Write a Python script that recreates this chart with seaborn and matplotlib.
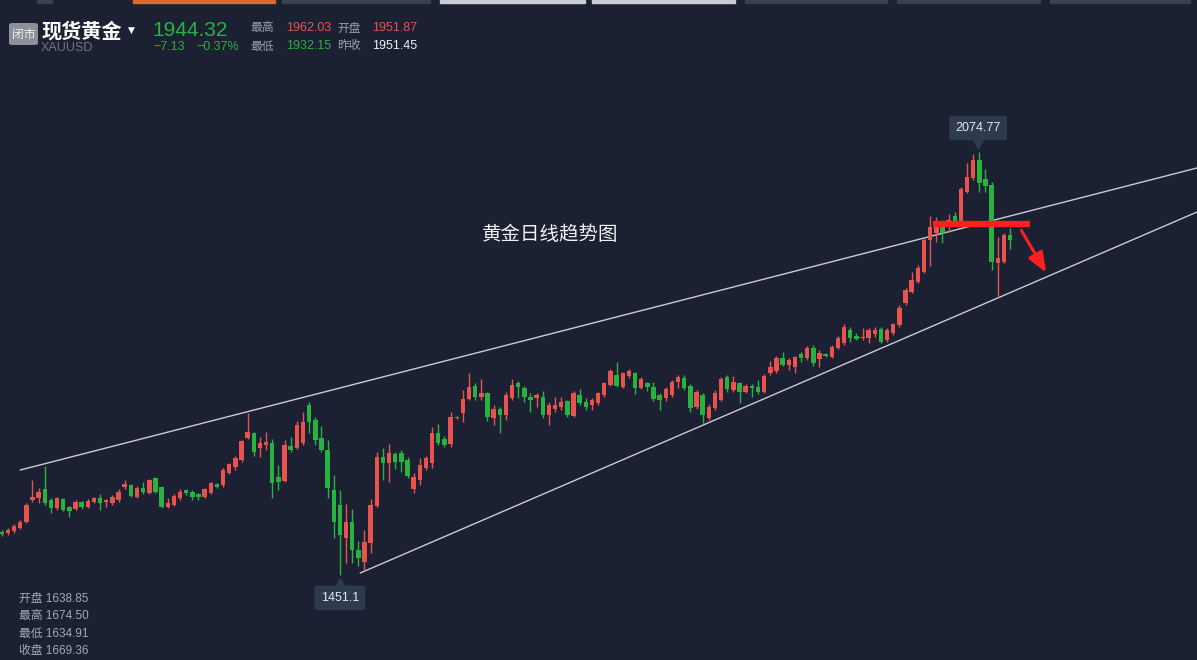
import matplotlib
matplotlib.use("Agg")
import matplotlib.pyplot as plt
import seaborn as sns
import numpy as np
import pandas as pd
from matplotlib.patches import Rectangle, FancyBboxPatch

# ---- data (daily OHLC) ----
opens = [
    1514.5, 1513.1, 1516.0, 1520.4, 1529.3, 1561.7, 1564.6, 1577.9, 1561.7, 1549.9,
    1563.2, 1551.4, 1548.4, 1558.7, 1551.4, 1558.7, 1564.6, 1558.7, 1557.3, 1561.7,
    1580.9, 1583.8, 1566.1, 1579.4, 1572.0, 1594.1, 1580.9, 1551.4, 1554.3, 1564.6,
    1576.4, 1573.5, 1570.5, 1566.1, 1572.0, 1585.3, 1583.8, 1601.5, 1610.3, 1620.7,
    1653.1, 1660.5, 1638.4, 1642.8, 1645.7, 1595.6, 1589.7, 1641.3, 1638.4, 1645.7,
    1701.7, 1679.6, 1653.1, 1635.4, 1576.4, 1554.3, 1505.7, 1529.3, 1488.0, 1470.3,
    1498.3, 1552.9, 1625.1, 1616.2, 1629.5, 1631.0, 1620.7, 1577.9, 1591.2, 1608.9,
    1616.2, 1660.5, 1651.6, 1644.2, 1682.6, 1690.0, 1710.6, 1729.7, 1713.5, 1719.4,
    1682.6, 1695.8, 1687.0, 1712.1, 1734.2, 1726.8, 1713.5, 1712.1, 1713.5, 1687.0,
    1695.8, 1698.8, 1707.6, 1685.6, 1716.5, 1706.1, 1701.7, 1704.7, 1716.5, 1731.2,
    1746.0, 1728.3, 1744.5, 1748.9, 1726.8, 1734.2, 1728.3, 1716.5, 1712.1, 1716.5,
    1735.7, 1741.5, 1729.7, 1698.8, 1716.5, 1682.6, 1697.3, 1709.1, 1743.0, 1723.9,
    1734.2, 1720.9, 1729.7, 1728.3, 1720.9, 1748.9, 1751.8, 1771.0, 1760.7, 1757.7,
    1776.9, 1771.0, 1785.8, 1769.6, 1776.9, 1772.5, 1785.8, 1793.1, 1812.3, 1803.4,
    1800.5, 1800.5, 1806.4, 1813.8, 1797.5, 1807.9, 1819.7, 1852.1, 1868.3, 1883.0,
    1897.8, 1944.9, 1955.3, 1967.0, 1964.1, 1980.3, 1971.5, 2015.7, 2036.3, 2062.9,
    2034.9, 2026.0, 1911.0, 1912.5, 1951.87,
]
highs = [
    1517.5, 1520.4, 1526.3, 1532.2, 1557.3, 1591.2, 1579.4, 1611.8, 1564.6, 1566.1,
    1564.6, 1552.9, 1561.7, 1560.2, 1563.2, 1566.1, 1570.5, 1563.2, 1569.1, 1577.9,
    1591.2, 1585.3, 1582.3, 1588.2, 1592.7, 1595.6, 1582.3, 1564.6, 1570.5, 1577.9,
    1577.9, 1576.4, 1572.0, 1579.4, 1588.2, 1586.8, 1608.9, 1616.2, 1626.6, 1650.1,
    1690.0, 1661.9, 1654.6, 1661.9, 1651.6, 1613.3, 1650.1, 1654.6, 1678.2, 1691.4,
    1706.1, 1684.1, 1670.8, 1650.1, 1598.5, 1576.4, 1555.8, 1548.4, 1501.3, 1517.5,
    1563.2, 1632.5, 1638.4, 1644.2, 1632.5, 1635.4, 1625.1, 1601.5, 1623.6, 1626.6,
    1669.3, 1673.7, 1656.0, 1691.4, 1685.6, 1723.9, 1748.9, 1734.2, 1740.0, 1720.9,
    1701.7, 1698.8, 1720.9, 1740.0, 1737.1, 1729.7, 1719.4, 1719.4, 1722.4, 1706.1,
    1713.5, 1713.5, 1709.1, 1722.4, 1725.3, 1712.1, 1712.1, 1720.9, 1735.7, 1754.8,
    1765.1, 1750.4, 1754.8, 1750.4, 1743.0, 1735.7, 1735.7, 1719.4, 1728.3, 1738.6,
    1745.9, 1745.9, 1732.7, 1723.9, 1719.4, 1703.2, 1723.9, 1743.0, 1745.9, 1744.5,
    1735.7, 1732.7, 1732.7, 1738.6, 1747.4, 1766.6, 1774.0, 1779.9, 1771.0, 1774.0,
    1779.9, 1788.7, 1790.2, 1782.8, 1778.4, 1790.2, 1803.4, 1821.1, 1816.7, 1807.9,
    1815.2, 1815.2, 1816.7, 1816.7, 1815.2, 1822.6, 1849.1, 1874.2, 1897.8, 1908.1,
    1947.9, 1980.3, 1978.8, 1974.4, 1983.3, 1986.2, 2023.1, 2058.4, 2071.7, 2074.77,
    2049.6, 2030.4, 1949.4, 1955.3, 1962.03,
]
lows = [
    1508.6, 1510.1, 1513.1, 1518.9, 1527.8, 1558.7, 1557.3, 1554.3, 1542.5, 1547.0,
    1545.5, 1536.6, 1547.0, 1548.4, 1549.9, 1557.3, 1547.0, 1551.4, 1554.3, 1558.7,
    1577.9, 1566.1, 1564.6, 1570.5, 1570.5, 1572.0, 1549.9, 1549.9, 1552.9, 1561.7,
    1569.1, 1561.7, 1561.7, 1565.0, 1570.5, 1579.4, 1580.9, 1600.0, 1605.9, 1617.7,
    1651.6, 1626.6, 1625.1, 1635.4, 1564.6, 1576.4, 1588.2, 1632.5, 1636.9, 1642.8,
    1660.5, 1642.8, 1632.5, 1564.6, 1505.7, 1451.1, 1468.8, 1468.8, 1464.4, 1458.5,
    1483.6, 1551.4, 1591.2, 1588.2, 1607.4, 1603.0, 1594.1, 1572.0, 1583.8, 1605.9,
    1608.9, 1642.8, 1639.8, 1639.8, 1681.1, 1676.7, 1709.1, 1709.1, 1709.1, 1678.2,
    1672.3, 1660.5, 1679.6, 1709.1, 1712.1, 1706.1, 1691.4, 1698.8, 1682.6, 1672.3,
    1691.4, 1694.4, 1684.1, 1684.1, 1701.7, 1694.4, 1694.4, 1701.7, 1713.5, 1729.7,
    1728.3, 1726.8, 1741.5, 1717.9, 1725.3, 1722.4, 1707.6, 1694.4, 1707.6, 1713.5,
    1726.8, 1723.9, 1691.4, 1695.8, 1675.2, 1679.6, 1694.4, 1707.6, 1720.9, 1720.9,
    1704.7, 1719.4, 1713.5, 1718.0, 1719.4, 1746.0, 1748.9, 1759.2, 1753.3, 1748.9,
    1765.1, 1768.1, 1759.2, 1757.7, 1772.5, 1771.0, 1784.3, 1790.2, 1794.6, 1797.5,
    1797.5, 1793.1, 1802.0, 1793.1, 1794.6, 1804.9, 1816.7, 1849.1, 1866.8, 1881.5,
    1896.3, 1906.6, 1942.0, 1940.5, 1956.8, 1970.0, 1970.0, 2014.2, 2033.4, 2015.7,
    2015.7, 1900.7, 1860.9, 1911.0, 1932.15,
]
closes = [
    1511.6, 1517.5, 1523.4, 1529.3, 1554.3, 1566.1, 1573.5, 1557.3, 1549.9, 1564.6,
    1547.0, 1545.5, 1558.7, 1551.4, 1560.2, 1564.6, 1557.3, 1561.7, 1566.1, 1573.5,
    1585.3, 1567.6, 1579.4, 1573.5, 1591.2, 1573.5, 1551.4, 1557.3, 1567.6, 1573.5,
    1572.0, 1566.1, 1566.1, 1577.9, 1586.8, 1580.9, 1605.9, 1614.8, 1623.6, 1648.7,
    1661.9, 1632.5, 1645.7, 1647.2, 1586.8, 1588.2, 1642.8, 1635.4, 1672.3, 1676.7,
    1676.7, 1650.1, 1635.4, 1579.4, 1529.3, 1510.1, 1529.3, 1488.0, 1476.2, 1499.8,
    1554.3, 1625.1, 1616.2, 1631.0, 1617.7, 1617.7, 1597.1, 1595.6, 1613.3, 1623.6,
    1660.5, 1645.7, 1642.8, 1684.1, 1684.1, 1710.6, 1728.3, 1713.5, 1719.4, 1684.1,
    1695.8, 1687.0, 1716.5, 1731.2, 1728.3, 1713.5, 1709.1, 1716.5, 1687.0, 1701.7,
    1701.7, 1706.1, 1687.0, 1719.4, 1704.7, 1698.8, 1709.1, 1719.4, 1734.2, 1751.8,
    1729.7, 1748.9, 1751.8, 1726.8, 1740.0, 1728.3, 1710.6, 1709.1, 1725.3, 1735.7,
    1743.0, 1726.8, 1697.3, 1720.9, 1687.0, 1698.8, 1719.4, 1740.0, 1725.3, 1735.7,
    1720.9, 1729.7, 1726.8, 1720.9, 1744.5, 1757.7, 1771.0, 1760.7, 1768.1, 1772.5,
    1771.0, 1785.8, 1763.6, 1778.4, 1774.0, 1787.2, 1800.5, 1816.7, 1800.5, 1799.0,
    1802.0, 1812.3, 1812.3, 1794.6, 1812.3, 1821.1, 1844.7, 1871.2, 1886.0, 1903.7,
    1944.9, 1964.1, 1967.0, 1955.3, 1974.4, 1971.5, 2020.1, 2037.8, 2062.9, 2028.9,
    2024.5, 1912.5, 1918.4, 1952.3, 1944.32,
]

# trend lines (bar index, price) and the marked resistance level
upper_line = ([3.0, 194.4], [1605.9, 2051.1])
lower_line = ([58.3, 194.4], [1454.1, 1986.2])
resist_x = [151.4, 167.2]
resist_price = 1968.5
arrow_from = (165.6, 1962.6)
arrow_to = (170.1, 1893.4)

title = "黄金日线趋势图"
header = {"name": "现货黄金", "code": "XAUUSD", "last": "1944.32",
          "chg": "−7.13", "pct": "−0.37%"}
info_left = [("最高", "1962.03", "red"), ("开盘", "1951.87", "red"),
             ("最低", "1932.15", "green"), ("昨收", "1951.45", "white")]
bottom_info = ["开盘 1638.85", "最高 1674.50", "最低 1634.91", "收盘 1669.36"]

# ---- style ----
BG = "#1b2133"
RED = "#e9534d"
GREEN = "#2ab240"
W, H = 1197, 660
NUM_FONT = ["Liberation Sans", "Noto Sans CJK SC", "DejaVu Sans"]

sns.set_theme(style="dark", rc={"axes.facecolor": BG, "figure.facecolor": BG})
plt.rcParams["font.family"] = ["Noto Sans CJK SC", "DejaVu Sans"]

df = pd.DataFrame({"open": opens, "high": highs, "low": lows, "close": closes})
df["idx"] = np.arange(len(df))
df["up"] = df["close"] >= df["open"]
df["color"] = np.where(df["up"], RED, GREEN)

fig = plt.figure(figsize=(W / 100, H / 100), dpi=100)
ax = fig.add_axes([0, 0, 1, 1])
ax.set_facecolor(BG)
ax.set_xlim(-0.28, 194.4)
ax.set_ylim(1325.9, 2298.7)
ax.axis("off")

# wicks + bodies
ax.vlines(df["idx"], df["low"], df["high"], colors=df["color"], linewidth=1, zorder=2)
body_lo = np.minimum(df["open"], df["close"])
body_h = np.maximum((df["close"] - df["open"]).abs(), 1.2)
ax.bar(df["idx"], body_h, bottom=body_lo, width=0.72, color=df["color"],
       linewidth=0, zorder=3)

# trend lines
sns.lineplot(x=upper_line[0], y=upper_line[1], ax=ax, color="#c9ccd3", linewidth=1, zorder=1)
sns.lineplot(x=lower_line[0], y=lower_line[1], ax=ax, color="#c9ccd3", linewidth=1, zorder=1)

# resistance bar + arrow
ax.plot(resist_x, [resist_price, resist_price], color="#ff1f1f", linewidth=4.5,
        solid_capstyle="butt", zorder=4)
ax.annotate("", xy=arrow_to, xytext=arrow_from,
            arrowprops=dict(arrowstyle="-|>,head_length=1.0,head_width=0.4",
                            color="#ff1f1f", lw=2.2), zorder=5)

# high / low labels
hi_i = int(np.argmax(highs))
lo_i = int(np.argmin(lows))
LBL = "#2e3a50"
ax.text(hi_i - 0.2, 2110, f"{highs[hi_i]:.2f}", color="#e6e8ec", fontsize=9,
        ha="center", va="center", zorder=6, family=NUM_FONT,
        bbox=dict(boxstyle="round,pad=0.5,rounding_size=0.2", fc=LBL, ec="none"))
ax.plot(hi_i - 0.2, 2087, marker="v", markersize=7, color=LBL, zorder=6)
ax.text(lo_i, 1417.5, f"{lows[lo_i]:.1f}", color="#e6e8ec", fontsize=9,
        ha="center", va="center", zorder=6, family=NUM_FONT,
        bbox=dict(boxstyle="round,pad=0.5,rounding_size=0.2", fc=LBL, ec="none"))
ax.plot(lo_i, 1440, marker="^", markersize=7, color=LBL, zorder=6)


def fx(x):
    return x / W


def fy(y):
    return 1 - y / H


# chart title
fig.text(fx(550), fy(235), title, color="#f2f2f2", fontsize=14, ha="center", va="center")

# top tab strip
tabs = [(37, 52, "#3a4252"), (133, 275, "#d96a2b"), (282, 430, "#3a4252"),
        (440, 585, "#c9cdd3"), (592, 735, "#c9cdd3"), (745, 887, "#3a4252"),
        (897, 1040, "#3a4252"), (1050, 1190, "#3a4252")]
for x0, x1, c in tabs:
    fig.patches.append(Rectangle((fx(x0), fy(3)), fx(x1) - fx(x0), 3 / H,
                                 transform=fig.transFigure, color=c))

# header
fig.patches.append(FancyBboxPatch((fx(9), fy(45)), 29 / W, 22 / H,
                                  boxstyle="round,pad=0,rounding_size=0.003",
                                  transform=fig.transFigure, fc="#8c9099", ec="none"))
fig.text(fx(23.5), fy(34), "闭市", color="#f0f0f0", fontsize=8.5, ha="center", va="center")
fig.text(fx(41), fy(31), header["name"], color="white", fontsize=14.5,
         fontweight="bold", ha="left", va="center")
fig.text(fx(131), fy(30), "▼", color="white", fontsize=6.5, ha="center", va="center",
         family=["DejaVu Sans"])
fig.text(fx(41), fy(48), header["code"], color="#6d7585", fontsize=9, ha="left",
         va="center", family=NUM_FONT)
fig.text(fx(152), fy(30), header["last"], color=GREEN, fontsize=15, ha="left",
         va="center", family=NUM_FONT)
fig.text(fx(153), fy(47), header["chg"], color=GREEN, fontsize=9, ha="left",
         va="center", family=NUM_FONT)
fig.text(fx(196), fy(47), header["pct"], color=GREEN, fontsize=9, ha="left",
         va="center", family=NUM_FONT)

val_colors = {"red": RED, "green": GREEN, "white": "#f0f0f0"}
pos = [(250, 286, 28), (337, 372, 28), (250, 286, 46), (337, 372, 46)]
for (lab, val, c), (xl, xv, yy) in zip(info_left, pos):
    fig.text(fx(xl), fy(yy), lab, color="#9aa0ab", fontsize=8.5, ha="left", va="center")
    fig.text(fx(xv), fy(yy), val, color=val_colors[c], fontsize=9, ha="left",
             va="center", family=NUM_FONT)

# bottom-left OHLC panel
for k, line in enumerate(bottom_info):
    fig.text(fx(19), fy(599 + 17.3 * k), line, color="#a3a9b4", fontsize=8.5,
             ha="left", va="center", family=NUM_FONT)

fig.savefig("out.png", dpi=100, facecolor=BG)
